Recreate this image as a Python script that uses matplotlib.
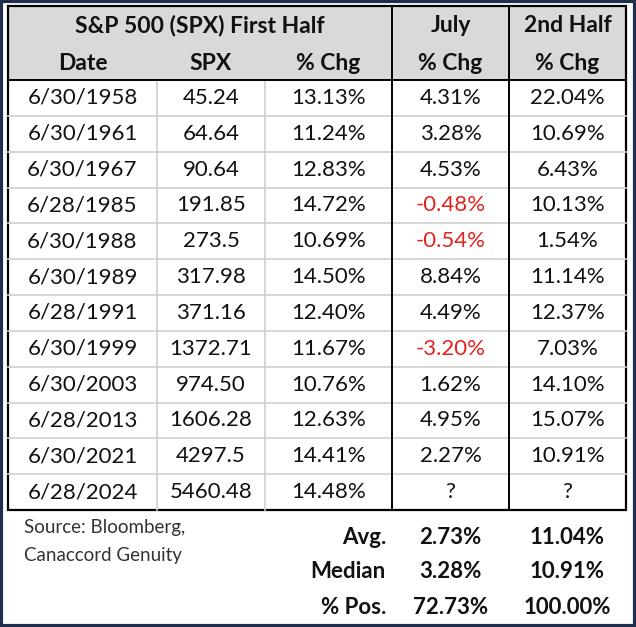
import matplotlib.pyplot as plt
from matplotlib.patches import Rectangle

# table data
dates = ['6/30/1958', '6/30/1961', '6/30/1967', '6/28/1985', '6/30/1988', '6/30/1989',
         '6/28/1991', '6/30/1999', '6/30/2003', '6/28/2013', '6/30/2021', '6/28/2024']
spx = ['45.24', '64.64', '90.64', '191.85', '273.5', '317.98',
       '371.16', '1372.71', '974.50', '1606.28', '4297.5', '5460.48']
first_half = ['13.13%', '11.24%', '12.83%', '14.72%', '10.69%', '14.50%',
              '12.40%', '11.67%', '10.76%', '12.63%', '14.41%', '14.48%']
july = ['4.31%', '3.28%', '4.53%', '-0.48%', '-0.54%', '8.84%',
        '4.49%', '-3.20%', '1.62%', '4.95%', '2.27%', '?']
second_half = ['22.04%', '10.69%', '6.43%', '10.13%', '1.54%', '11.14%',
               '12.37%', '7.03%', '14.10%', '15.07%', '10.91%', '?']

summary_labels = ['Avg.', 'Median', '% Pos.']
summary_july = ['2.73%', '3.28%', '72.73%']
summary_second = ['11.04%', '10.91%', '100.00%']

W, H = 636, 627
FONT = 'Lato'
RED = '#E3211C'
GRAY = '#D9D9D9'
LIGHT = '#CFCFCF'

fig = plt.figure(figsize=(W / 100, H / 100), dpi=100)
ax = fig.add_axes([0, 0, 1, 1])
ax.set_xlim(0, W)
ax.set_ylim(H, 0)
ax.axis('off')

# outer navy frame
ax.add_patch(Rectangle((1, 1), W - 2, H - 2, fill=False, ec='#1F2E4A', lw=3))

# table geometry (pixels)
left, right = 8, 626
top, head_bot = 6, 80
row_h = (510 - head_bot) / len(dates)
bottom = head_bot + row_h * len(dates)
cols = [left, 157, 265, 392, 509, right]
centers = [(cols[i] + cols[i + 1]) / 2 for i in range(5)]

ax.add_patch(Rectangle((left, top), right - left, head_bot - top, fc=GRAY, ec='none'))

# light row lines
for i in range(1, len(dates)):
    y = head_bot + i * row_h
    ax.plot([left, right], [y, y], color=LIGHT, lw=1.2)
# light column lines in first-half block (data rows only)
for x in cols[1:3]:
    ax.plot([x, x], [head_bot, bottom], color=LIGHT, lw=1.2)
# black lines
ax.plot([left, right], [head_bot, head_bot], color='black', lw=1.4)
for x in cols[3:5]:
    ax.plot([x, x], [top, bottom], color='black', lw=1.4)
ax.add_patch(Rectangle((left, top), right - left, bottom - top, fill=False, ec='black', lw=1.6))

# headers
hkw = dict(fontfamily=FONT, fontsize=16.5, fontweight='bold', ha='center', va='center', color='#111111')
ax.text((cols[0] + cols[3]) / 2, 25, 'S&P 500 (SPX) First Half', **hkw)
ax.text(centers[3], 25, 'July', **hkw)
ax.text(centers[4], 25, '2nd Half', **hkw)
for c, lab in zip(centers, ['Date', 'SPX', '% Chg', '% Chg', '% Chg']):
    ax.text(c, 63, lab, **hkw)

# body
bkw = dict(fontfamily=FONT, fontsize=16, ha='center', va='center')
for i in range(len(dates)):
    y = head_bot + (i + 0.5) * row_h
    row = [dates[i], spx[i], first_half[i], july[i], second_half[i]]
    for c, val in zip(centers, row):
        col = RED if val.startswith('-') else '#111111'
        ax.text(c, y, val, color=col, **bkw)

# source
ax.text(24, 527, 'Source: Bloomberg,', fontfamily=FONT, fontsize=13.5, color='#333333', va='center')
ax.text(24, 555, 'Canaccord Genuity', fontfamily=FONT, fontsize=13.5, color='#333333', va='center')

# summary
skw = dict(fontfamily=FONT, fontsize=16, fontweight='bold', va='center', color='#111111')
for i, (lab, a, b) in enumerate(zip(summary_labels, summary_july, summary_second)):
    y = 537 + i * 35
    ax.text(386, y, lab, ha='right', **skw)
    ax.text(centers[3], y, a, ha='center', **skw)
    ax.text(centers[4], y, b, ha='center', **skw)

fig.savefig('out.png', dpi=100)
